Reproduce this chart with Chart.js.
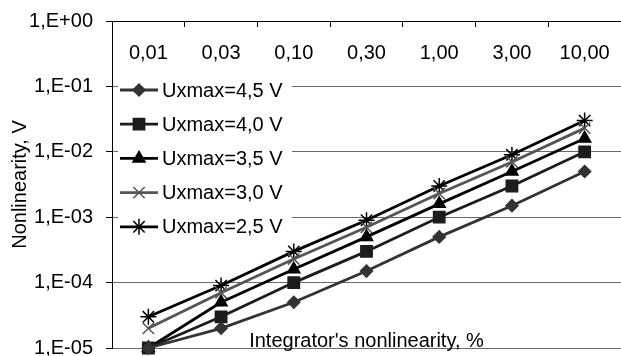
<!DOCTYPE html>
<html>
<head>
<meta charset="utf-8">
<script src="https://cdn.jsdelivr.net/npm/chart.js@4/dist/chart.umd.min.js"></script>
<style>
  html, body { margin: 0; padding: 0; background: #fff; }
  #wrap { width: 621px; height: 356px; position: relative; }
</style>
</head>
<body>
<div id="wrap"><canvas id="grafico"></canvas></div>
<script>
// categorie (asse x, in alto)
var categorie = ["0,01", "0,03", "0,10", "0,30", "1,00", "3,00", "10,00"];

// valori
var serie45 = [1e-5, 2e-5, 5e-5, 1.5e-4, 5e-4, 1.5e-3, 5e-3];
var serie40 = [1e-5, 3e-5, 1e-4, 3e-4, 1e-3, 3e-3, 1e-2];
var serie35 = [1e-5, 5e-5, 1.6e-4, 5e-4, 1.6e-3, 5e-3, 1.6e-2];
var serie30 = [2e-5, 7e-5, 2.3e-4, 7e-4, 2.3e-3, 7e-3, 2.3e-2];
var serie25 = [3e-5, 9e-5, 3e-4, 9e-4, 3e-3, 9e-3, 3e-2];
var nomiSerie = ["Uxmax=4,5 V", "Uxmax=4,0 V", "Uxmax=3,5 V", "Uxmax=3,0 V", "Uxmax=2,5 V"];

// tacche asse y
var tickY = [1e-5, 1e-4, 1e-3, 1e-2, 1e-1, 1];
var etichetteY = ["1,E-05", "1,E-04", "1,E-03", "1,E-02", "1,E-01", "1,E+00"];

var titoloY = "Nonlinearity, V";
var titoloX = "Integrator's nonlinearity, %";

var FONT = "'Liberation Sans', Arial, sans-serif";

function creaSerie(label, data, colore, stile, raggio){
    return {
        label: label,
        data: data,
        borderColor: colore,
        backgroundColor: colore,
        borderWidth: 2.8,
        pointStyle: stile,
        pointRadius: raggio,
        pointHoverRadius: raggio,
        pointBorderWidth: 1.5,
        pointBorderColor: colore,
        pointBackgroundColor: colore,
        tension: 0,
        clip: false
    };
}

var datasets = [
    creaSerie(nomiSerie[0], serie45, "#333333", "rectRot", 6),
    creaSerie(nomiSerie[1], serie40, "#1c1c1c", "rect", 8),
    creaSerie(nomiSerie[2], serie35, "#000000", "triangle", 7),
    creaSerie(nomiSerie[3], serie30, "#555555", "crossRot", 8),
    creaSerie(nomiSerie[4], serie25, "#000000", "star", 8)
];

// legenda dentro l'area del grafico, con sfondo bianco
var legendaInterna = {
    id: "legendaInterna",
    beforeDatasetsDraw: function(chart){
        var ctx = chart.ctx;
        var x0 = 118, y0 = 72, passo = 34.2;
        ctx.save();
        ctx.fillStyle = "#fff";
        ctx.fillRect(x0, y0, 174, 172);
        chart.data.datasets.forEach(function(ds, i){
            var y = y0 + 18 + i * passo;
            ctx.strokeStyle = ds.borderColor;
            ctx.lineWidth = ds.borderWidth;
            ctx.beginPath();
            ctx.moveTo(120, y);
            ctx.lineTo(158, y);
            ctx.stroke();
            ctx.fillStyle = ds.pointBackgroundColor;
            ctx.strokeStyle = ds.pointBorderColor;
            ctx.lineWidth = ds.pointBorderWidth;
            Chart.helpers.drawPoint(ctx, {pointStyle: ds.pointStyle, radius: ds.pointRadius, rotation: 0, borderWidth: ds.pointBorderWidth}, 139, y);
            ctx.fillStyle = "#000";
            ctx.font = "20px " + FONT;
            ctx.textBaseline = "middle";
            ctx.textAlign = "left";
            ctx.fillText(ds.label, 162, y + 1);
        });
        ctx.restore();
    },
    afterDraw: function(chart){
        var ctx = chart.ctx;
        var area = chart.chartArea;
        ctx.save();
        ctx.fillStyle = "#000";
        ctx.font = "20px " + FONT;
        ctx.textAlign = "center";
        ctx.textBaseline = "alphabetic";
        ctx.fillText(titoloX, (area.left + area.right) / 2, area.bottom - 1);
        ctx.restore();
    }
};

var ctx = document.getElementById("grafico");
var myChart = new Chart(ctx, {
    type: "line",
    data: { labels: categorie, datasets: datasets },
    plugins: [legendaInterna],
    options: {
        responsive: true,
        maintainAspectRatio: false,
        animation: false,
        layout: { autoPadding: false, padding: { left: 0, right: 0, top: 0, bottom: 8 } },
        plugins: {
            legend: { display: false },
            tooltip: { enabled: false }
        },
        scales: {
            x: {
                position: "top",
                offset: true,
                afterFit: function(s){
                    s.height = 21;
                    s.paddingLeft = 0;
                    s.paddingRight = 0;
                },
                grid: {
                    offset: true,
                    drawOnChartArea: false,
                    tickLength: -6,
                    tickColor: "#000"
                },
                border: { color: "#000", width: 1 },
                ticks: {
                    mirror: true,
                    padding: 20,
                    color: "#000",
                    font: { size: 20, family: FONT },
                    maxRotation: 0,
                    autoSkip: false
                }
            },
            y: {
                type: "logarithmic",
                min: 1e-5,
                max: 1,
                afterFit: function(s){
                    s.width = 112;
                    s.paddingTop = 0;
                    s.paddingBottom = 0;
                },
                afterBuildTicks: function(s){
                    s.ticks = tickY.map(function(v){ return {value: v}; });
                },
                grid: {
                    color: "#6a6a6a",
                    tickColor: "#000",
                    tickLength: 6
                },
                border: { color: "#000", width: 1 },
                ticks: {
                    color: "#000",
                    padding: 13,
                    font: { size: 20, family: FONT },
                    callback: function(v){
                        var i = tickY.indexOf(v);
                        return i >= 0 ? etichetteY[i] : "";
                    }
                },
                title: {
                    display: true,
                    text: titoloY,
                    color: "#000",
                    font: { size: 20, family: FONT },
                    padding: { top: 8, bottom: 0 }
                }
            }
        }
    }
});
</script>
</body>
</html>
